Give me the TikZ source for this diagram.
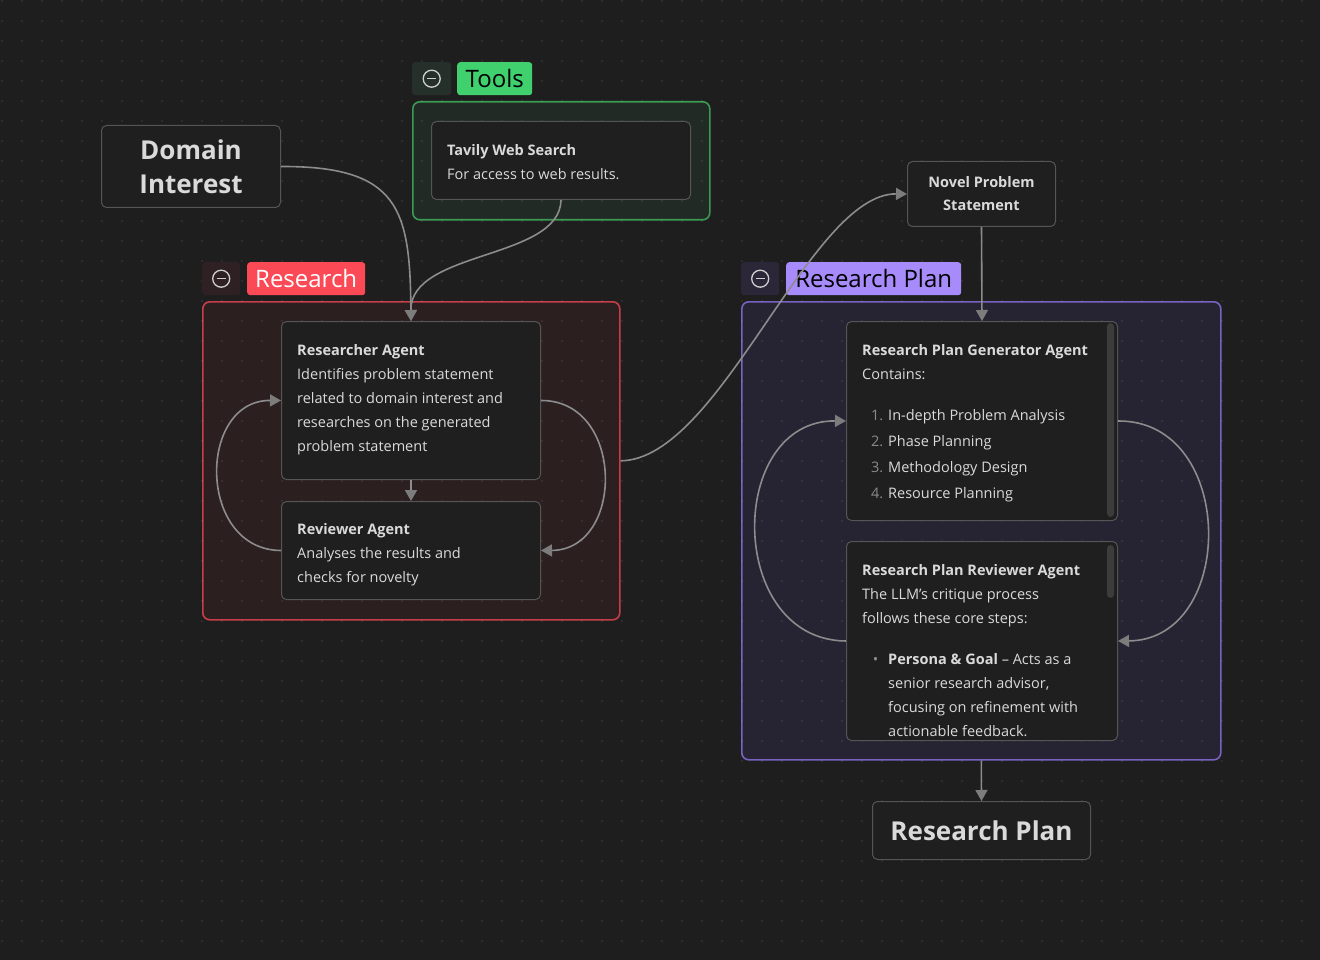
\documentclass[tikz,border=0pt]{standalone}
\usepackage{fontspec}
\setmainfont{Open Sans}
\usetikzlibrary{arrows.meta}

\definecolor{canvas}{HTML}{1E1E1E}
\definecolor{cardfill}{HTML}{1F1F1F}
\definecolor{cardline}{HTML}{555555}
\definecolor{txt}{HTML}{DADADA}
\definecolor{numgray}{HTML}{8A8A8A}
\definecolor{linkgray}{HTML}{8C8C8C}
\definecolor{tipgray}{HTML}{7C7C7C}
\definecolor{scrollgray}{HTML}{3C3C3C}
\definecolor{iconline}{HTML}{CFCFCF}
% group colours
\definecolor{toolsline}{HTML}{3C9A55}
\definecolor{toolsfill}{HTML}{212A24}
\definecolor{toolstag}{HTML}{40D06E}
\definecolor{toolsbtn}{HTML}{26302A}
\definecolor{resline}{HTML}{C63F48}
\definecolor{resfill}{HTML}{2C1F20}
\definecolor{restag}{HTML}{FB4A55}
\definecolor{resbtn}{HTML}{2F2123}
\definecolor{planline}{HTML}{7862C2}
\definecolor{planfill}{HTML}{262333}
\definecolor{plantag}{HTML}{A78BFA}
\definecolor{planbtn}{HTML}{2B2738}

\newcommand{\txtbody}{\fontsize{14.5}{24}\selectfont}
\newcommand{\tagfont}{\fontsize{24}{30}\selectfont}

\begin{document}
\begin{tikzpicture}[x=1pt,y=1pt,yscale=-1,
  card/.style={draw=cardline, fill=cardfill, rounded corners=5, line width=1, anchor=north west, inner sep=0},
  group/.style={rounded corners=7, line width=1.6, anchor=north west, inner sep=0},
  tag/.style={rounded corners=3, anchor=north west, inner sep=0, minimum height=33pt},
  cardtext/.style={anchor=north west, inner sep=0, align=left, text=txt, font=\txtbody},
  icon/.style={draw=iconline, line width=1.3},
  link/.style={draw=linkgray, line width=1.6, -{Triangle[length=11pt,width=12pt,color=tipgray]}},
  dot/.style={fill=white, fill opacity=0.07}]
\useasboundingbox (0,0) rectangle (1320,960);
\fill[canvas] (0,0) rectangle (1320,960);

%Groups
\node[group, draw=toolsline, fill=toolsfill, minimum width=297pt, minimum height=118pt] (toolsgrp) at (412,101) {};
\node[group, draw=resline, fill=resfill, minimum width=417pt, minimum height=318pt] (resgrp) at (202,301) {};
\node[group, draw=planline, fill=planfill, minimum width=479pt, minimum height=458pt] (plangrp) at (741,301) {};

%Canvas dots
\foreach \i in {0,...,65}{
  \foreach \j in {0,...,47}{
    \fill[dot] (1+20*\i,20*\j) rectangle ++(2,2);
  }
}

%Group headers
\node[tag, fill=toolsbtn, minimum width=39pt] (toolsbtn) at (412,62) {};
\node[tag, fill=toolstag, minimum width=75pt, text=black, font=\tagfont] (toolstag) at (457,62) {Tools};
\node[tag, fill=resbtn, minimum width=38pt] (resbtn) at (202,262) {};
\node[tag, fill=restag, minimum width=118pt, text=white, font=\tagfont] (restag) at (247,262) {Research};
\node[tag, fill=planbtn, minimum width=38pt] (planbtn) at (741,262) {};
\node[tag, fill=plantag, minimum width=175pt, text=black, font=\tagfont] (plantag) at (786,262) {Research Plan};
\foreach \b in {toolsbtn,resbtn,planbtn}{
  \draw[icon] (\b.center) circle[radius=8.5];
  \draw[icon] ([xshift=-4.5pt]\b.center) -- ([xshift=4.5pt]\b.center);
}

%Cards
\node[card, minimum width=179pt, minimum height=82pt, text=txt, align=center,
  font=\fontsize{26}{34}\selectfont\bfseries] (domain) at (101,125) {Domain\\Interest};
\node[card, minimum width=259pt, minimum height=78pt] (tavily) at (431,121) {};
\node[cardtext] (tavilytxt) at ([shift={(16,23)}]tavily.north west)
  {\textbf{Tavily Web Search}\\For access to web results.};
\node[card, minimum width=259pt, minimum height=158pt] (researcher) at (281,321) {};
\node[cardtext] (researchertxt) at ([shift={(16,23)}]researcher.north west)
  {\textbf{Researcher Agent}\\Identifies problem statement\\related to domain interest and\\researches on the generated\\problem statement};
\node[card, minimum width=259pt, minimum height=98pt] (reviewer) at (281,501) {};
\node[cardtext] (reviewertxt) at ([shift={(16,22)}]reviewer.north west)
  {\textbf{Reviewer Agent}\\Analyses the results and\\checks for novelty};
\node[card, minimum width=148pt, minimum height=65pt, text=txt, align=center,
  font=\fontsize{14.5}{23}\selectfont\bfseries] (novel) at (907,161) {Novel Problem\\Statement};
\node[card, minimum width=271pt, minimum height=199pt] (generator) at (846,321) {};
\fill[scrollgray, rounded corners=3.5] (1107,323) rectangle (1114,517);
\node[cardtext] (generatortxt) at ([shift={(16,23)}]generator.north west)
  {\textbf{Research Plan Generator Agent}\\Contains:\\[17pt]
   \hspace*{26pt}\llap{\textcolor{numgray}{1.}\hspace{5pt}}In-depth Problem Analysis\\[2pt]
   \hspace*{26pt}\llap{\textcolor{numgray}{2.}\hspace{5pt}}Phase Planning\\[2pt]
   \hspace*{26pt}\llap{\textcolor{numgray}{3.}\hspace{5pt}}Methodology Design\\[2pt]
   \hspace*{26pt}\llap{\textcolor{numgray}{4.}\hspace{5pt}}Resource Planning};
\node[card, minimum width=271pt, minimum height=199pt] (planreviewer) at (846,541) {};
\fill[scrollgray, rounded corners=3.5] (1107,545) rectangle (1114,598);
\begin{scope}
  \clip (planreviewer.north west) rectangle ([yshift=-1pt]planreviewer.south east);
  \node[cardtext] (planreviewertxt) at ([shift={(16,23)}]planreviewer.north west)
    {\textbf{Research Plan Reviewer Agent}\\The LLM's critique process\\follows these core steps:\\[17pt]
     \hspace*{26pt}\llap{\textcolor{numgray}{\textbullet}\hspace{10pt}}\textbf{Persona \& Goal} -- Acts as a\\
     \hspace*{26pt}senior research advisor,\\
     \hspace*{26pt}focusing on refinement with\\
     \hspace*{26pt}actionable feedback.};
\end{scope}
\node[card, minimum width=218pt, minimum height=58pt, text=txt,
  font=\fontsize{26}{34}\selectfont\bfseries] (result) at (872,801) {Research Plan};

%Connectors
\draw[link] (domain.east) .. controls (400,166) and (410,210) .. (researcher.north);
\draw[link] (tavily.south) .. controls (560,260) and (410,250) .. (researcher.north);
\draw[link] (researcher.south) -- (reviewer.north);
\draw[link] (reviewer.west) .. controls (197,550) and (197,400) .. (researcher.west);
\draw[link] (researcher.east) .. controls (625,400) and (625,550) .. (reviewer.east);
\draw[link] (resgrp.east) .. controls (720,460) and (810,193) .. (novel.west);
\draw[link] (novel.south) -- (generator.north);
\draw[link] (planreviewer.west) .. controls (726,640) and (726,420) .. (generator.west);
\draw[link] (generator.east) .. controls (1237,420) and (1237,640) .. (planreviewer.east);
\draw[link] (plangrp.south) -- (result.north);

\end{tikzpicture}
\end{document}
